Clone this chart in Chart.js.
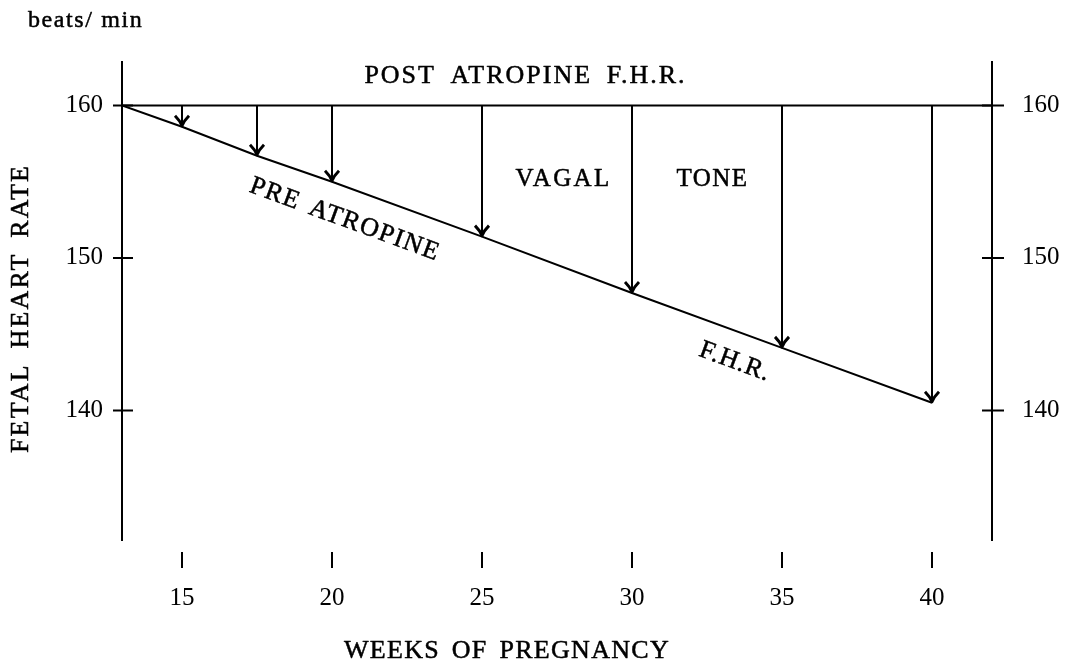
<!DOCTYPE html>
<html>
<head>
<meta charset="utf-8">
<script src="https://cdn.jsdelivr.net/npm/chart.js@4.4.1/dist/chart.umd.min.js"></script>
<style>
html,body{margin:0;padding:0;background:#fff;}
#wrap{width:1074px;height:667px;position:relative;}
</style>
</head>
<body>
<div id="wrap"><canvas id="c" width="1074" height="667"></canvas></div>
<script>
// ---- data ----
const weeks = [13, 15, 17.5, 20, 25, 30, 35, 40];
const preAtropineFHR = [160, 158.6, 156.7, 155.0, 151.4, 147.7, 144.1, 140.5];
const postAtropineWeeks = [13, 42];
const postAtropineFHR = [160, 160];
const arrowWeeks = [15, 17.5, 20, 25, 30, 35, 40];
const xTickValues = [15, 20, 25, 30, 35, 40];
const yTickValues = [140, 150, 160];
const xRange = [13, 42];
const yRange = [131.5, 162.85];

// text annotations (data coordinates)
const annotTexts = ['POST ATROPINE F.H.R.', 'VAGAL', 'TONE', 'PRE ATROPINE', 'F.H.R.'];
const annotX = [26.45, 27.72, 32.68, 20.43, 33.43];
const annotY = [161.9, 155.15, 155.15, 152.5, 143.18];
const annotRotated = [false, false, false, true, true];
const annotSize = [26, 25, 25, 26, 26];
const annotSpacing = [2.0, 2.4, 1.4, 1.5, 1.0];
const annotWordSpacing = [6, 0, 0, 3, 0];

const unitLabel = 'beats/ min';
const yTitle = 'FETAL HEART RATE';
const xTitle = 'WEEKS OF PREGNANCY';

const FONT = '"Liberation Serif", "Times New Roman", serif';

function setSpacing(ctx, ls, ws) {
  if ('letterSpacing' in ctx) ctx.letterSpacing = ls + 'px';
  if ('wordSpacing' in ctx) ctx.wordSpacing = ws + 'px';
}
function inkText(ctx, t, x, y) {
  ctx.fillText(t, x, y);
  ctx.lineWidth = 0.5;
  ctx.strokeText(t, x, y);
}

const overlay = {
  id: 'overlay',
  afterDraw(chart) {
    const ctx = chart.ctx;
    const xs = chart.scales.x, ys = chart.scales.y;
    const ca = chart.chartArea;
    ctx.save();
    ctx.strokeStyle = '#000';
    ctx.fillStyle = '#000';
    ctx.lineWidth = 2;
    ctx.lineCap = 'butt';

    // y tick marks crossing the axes
    yTickValues.forEach(v => {
      const py = ys.getPixelForValue(v);
      ctx.beginPath();
      ctx.moveTo(ca.left - 9, py); ctx.lineTo(ca.left + 11, py);
      ctx.moveTo(ca.right - 10, py); ctx.lineTo(ca.right + 12, py);
      ctx.stroke();
    });
    // detached x tick marks
    xTickValues.forEach(v => {
      const px = xs.getPixelForValue(v);
      ctx.beginPath();
      ctx.moveTo(px, ca.bottom + 12); ctx.lineTo(px, ca.bottom + 28);
      ctx.stroke();
    });

    // arrows (vagal tone)
    arrowWeeks.forEach(w => {
      const i = weeks.indexOf(w);
      const px = xs.getPixelForValue(w);
      const y0 = ys.getPixelForValue(postAtropineFHR[0]);
      const y1 = ys.getPixelForValue(preAtropineFHR[i]);
      ctx.lineWidth = 2;
      ctx.beginPath();
      ctx.moveTo(px, y0); ctx.lineTo(px, y1);
      ctx.stroke();
      ctx.lineWidth = 3;
      ctx.lineJoin = 'round';
      ctx.beginPath();
      ctx.moveTo(px - 7, y1 - 11);
      ctx.quadraticCurveTo(px - 2, y1 - 6, px, y1 - 1);
      ctx.quadraticCurveTo(px + 2, y1 - 6, px + 7, y1 - 11);
      ctx.stroke();
    });

    // line angle
    const p0x = xs.getPixelForValue(weeks[0]), p0y = ys.getPixelForValue(preAtropineFHR[0]);
    const n = weeks.length - 1;
    const p1x = xs.getPixelForValue(weeks[n]), p1y = ys.getPixelForValue(preAtropineFHR[n]);
    const ang = Math.atan2(p1y - p0y, p1x - p0x);

    ctx.textAlign = 'center';
    ctx.textBaseline = 'middle';
    annotTexts.forEach((t, i) => {
      const px = xs.getPixelForValue(annotX[i]);
      const py = ys.getPixelForValue(annotY[i]);
      ctx.save();
      ctx.font = annotSize[i] + 'px ' + FONT;
      setSpacing(ctx, annotSpacing[i], annotWordSpacing[i]);
      ctx.translate(px, py);
      if (annotRotated[i]) ctx.rotate(ang);
      inkText(ctx, t, 0, 0);
      ctx.restore();
    });

    // unit label
    ctx.save();
    ctx.font = '24px ' + FONT;
    setSpacing(ctx, 1.6, 0);
    ctx.textAlign = 'left';
    ctx.textBaseline = 'alphabetic';
    inkText(ctx, unitLabel, 28, 27);
    ctx.restore();

    // x title
    ctx.save();
    ctx.font = '26px ' + FONT;
    setSpacing(ctx, 1.3, 4);
    ctx.textAlign = 'center';
    ctx.textBaseline = 'alphabetic';
    inkText(ctx, xTitle, 507, 658);
    ctx.restore();

    // y title
    ctx.save();
    ctx.font = '26px ' + FONT;
    setSpacing(ctx, 2.2, 6);
    ctx.translate(28, 308.5);
    ctx.rotate(-Math.PI / 2);
    ctx.textAlign = 'center';
    ctx.textBaseline = 'alphabetic';
    inkText(ctx, yTitle, 0, 0);
    ctx.restore();

    ctx.restore();
  }
};

const tickFont = { family: FONT, size: 25 };

new Chart(document.getElementById('c'), {
  type: 'line',
  data: {
    datasets: [
      {
        label: 'Post atropine F.H.R.',
        data: postAtropineWeeks.map((w, i) => ({ x: w, y: postAtropineFHR[i] })),
        borderColor: '#000', borderWidth: 2, pointRadius: 0, tension: 0, fill: false,
        yAxisID: 'y'
      },
      {
        label: 'Pre atropine F.H.R.',
        data: weeks.map((w, i) => ({ x: w, y: preAtropineFHR[i] })),
        borderColor: '#000', borderWidth: 2, pointRadius: 0, tension: 0, fill: false,
        yAxisID: 'y'
      }
    ]
  },
  options: {
    responsive: false,
    animation: false,
    devicePixelRatio: 1,
    layout: { padding: { top: 62, left: 0, right: 0, bottom: 0 } },
    plugins: { legend: { display: false }, tooltip: { enabled: false }, title: { display: false } },
    scales: {
      x: {
        type: 'linear', position: 'bottom', min: xRange[0], max: xRange[1],
        afterBuildTicks: s => { s.ticks = xTickValues.map(v => ({ value: v })); },
        ticks: { color: '#000', font: tickFont, padding: 43, maxRotation: 0, autoSkip: false },
        grid: { display: false, drawTicks: false },
        border: { display: false },
        afterFit: s => { s.height = 127; }
      },
      y: {
        type: 'linear', position: 'left', min: yRange[0], max: yRange[1],
        afterBuildTicks: s => { s.ticks = yTickValues.map(v => ({ value: v })); },
        ticks: { color: '#000', font: tickFont, padding: 19, autoSkip: false },
        grid: { display: false, drawTicks: false },
        border: { display: true, color: '#000', width: 2 },
        afterFit: s => { s.width = 122; }
      },
      y2: {
        type: 'linear', position: 'right', min: yRange[0], max: yRange[1],
        afterBuildTicks: s => { s.ticks = yTickValues.map(v => ({ value: v })); },
        ticks: { color: '#000', font: tickFont, padding: 30, autoSkip: false },
        grid: { display: false, drawTicks: false },
        border: { display: true, color: '#000', width: 2 },
        afterFit: s => { s.width = 82; }
      }
    }
  },
  plugins: [overlay]
});
</script>
</body>
</html>
